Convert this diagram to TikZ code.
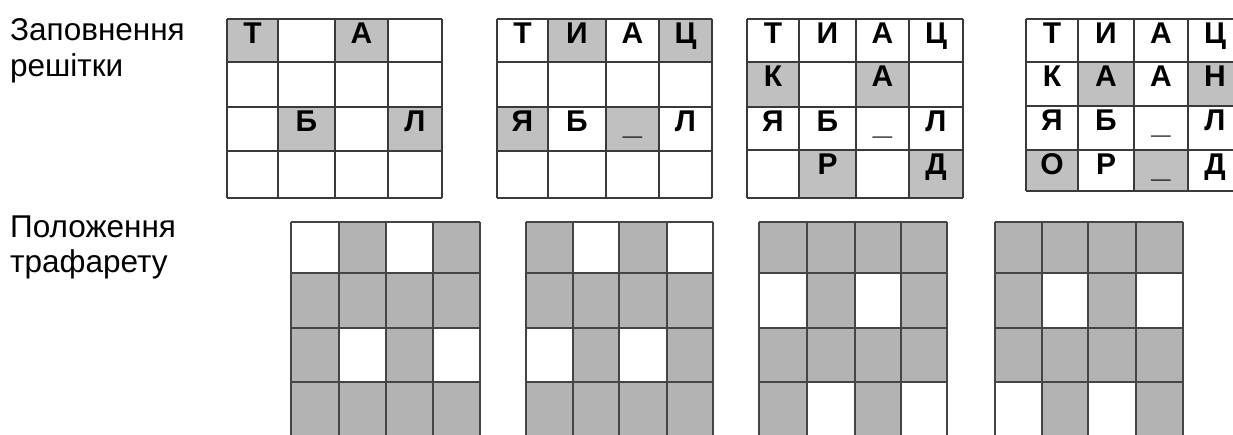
\documentclass[tikz,border=0pt]{standalone}
\usepackage{fontspec}
\setmainfont{Liberation Sans}
\definecolor{cellfill}{HTML}{C0C0C0}
\definecolor{stfill}{HTML}{B3B3B3}
\definecolor{gline}{HTML}{3A3A3A}
\definecolor{sline}{HTML}{454545}
\tikzset{
  gridline/.style={draw=gline,line width=1.4pt},
  stline/.style={draw=sline,line width=2.6pt},
  let/.style={anchor=base,inner sep=0pt,font=\fontsize{30}{32}\selectfont\bfseries},
  uscore/.style={let,yshift=-3pt,xscale=1.15},
  lab/.style={anchor=base west,inner sep=0pt,font=\fontsize{31.5}{36}\selectfont},
}
\begin{document}
\begin{tikzpicture}[x=1pt,y=-1pt]
\useasboundingbox (0,0) rectangle (1233,434);
\clip (0,0) rectangle (1233,434);
\fill[white] (0,0) rectangle (1233,434);

% labels
\node[lab] (l1a) at (10,40.7) {Заповнення};
\node[lab] (l1b) at (10,76) {решітки};
\node[lab] (l2a) at (10,237) {Положення};
\node[lab] (l2b) at (10,272) {трафарету};

% ---------- grid 1
\fill[cellfill] (227,19) rectangle (278,62);
\fill[cellfill] (335,19) rectangle (388,62);
\fill[cellfill] (278,107) rectangle (335,151);
\fill[cellfill] (388,107) rectangle (442,151);
\foreach \x in {227,278,335,388,442} \draw[gridline] (\x,19) -- (\x,198);
\foreach \y in {19,62,107,151,198} \draw[gridline] (227,\y) -- (442,\y);
\node[let] (a11) at (252.5,43.5) {Т};
\node[let] (a13) at (361.5,43.5) {А};
\node[let] (a32) at (306.5,131.5) {Б};
\node[let] (a34) at (415,131.5) {Л};

% ---------- grid 2
\fill[cellfill] (548,19) rectangle (606,62);
\fill[cellfill] (659,19) rectangle (712,62);
\fill[cellfill] (497,107) rectangle (548,151);
\fill[cellfill] (606,107) rectangle (659,151);
\foreach \x in {497,548,606,659,712} \draw[gridline] (\x,19) -- (\x,198);
\foreach \y in {19,62,107,151,198} \draw[gridline] (497,\y) -- (712,\y);
\node[let] (b11) at (522.5,43.5) {Т};
\node[let] (b12) at (577,43.5) {И};
\node[let] (b13) at (632.5,43.5) {А};
\node[let] (b14) at (685.5,43.5) {Ц};
\node[let] (b31) at (522.5,131.5) {Я};
\node[let] (b32) at (577,131.5) {Б};
\node[uscore] (b33) at (632.5,131.5) {\_};
\node[let] (b34) at (685.5,131.5) {Л};

% ---------- grid 3
\fill[cellfill] (747,62) rectangle (799,107);
\fill[cellfill] (856,62) rectangle (909,107);
\fill[cellfill] (799,150) rectangle (856,198);
\fill[cellfill] (909,150) rectangle (963,198);
\foreach \x in {747,799,856,909,963} \draw[gridline] (\x,19) -- (\x,198);
\foreach \y in {19,62,107,150,198} \draw[gridline] (747,\y) -- (963,\y);
\node[let] (c11) at (773,43.5) {Т};
\node[let] (c12) at (827.5,43.5) {И};
\node[let] (c13) at (882.5,43.5) {А};
\node[let] (c14) at (936,43.5) {Ц};
\node[let] (c21) at (773,86.5) {К};
\node[let] (c23) at (882.5,86.5) {А};
\node[let] (c31) at (773,131.5) {Я};
\node[let] (c32) at (827.5,131.5) {Б};
\node[uscore] (c33) at (882.5,131.5) {\_};
\node[let] (c34) at (936,131.5) {Л};
\node[let] (c42) at (827.5,174.5) {Р};
\node[let] (c44) at (936,174.5) {Д};

% ---------- grid 4
\fill[cellfill] (1078,62) rectangle (1134,106);
\fill[cellfill] (1188,62) rectangle (1242,106);
\fill[cellfill] (1026,150) rectangle (1078,191);
\fill[cellfill] (1134,150) rectangle (1188,191);
\foreach \x in {1026,1078,1134,1188,1242} \draw[gridline] (\x,19) -- (\x,191);
\foreach \y in {19,62,106,150,191} \draw[gridline] (1026,\y) -- (1242,\y);
\node[let] (d11) at (1052,43.5) {Т};
\node[let] (d12) at (1106,43.5) {И};
\node[let] (d13) at (1161,43.5) {А};
\node[let] (d14) at (1215,43.5) {Ц};
\node[let] (d21) at (1052,86.5) {К};
\node[let] (d22) at (1106,86.5) {А};
\node[let] (d23) at (1161,86.5) {А};
\node[let] (d24) at (1215,86.5) {Н};
\node[let] (d31) at (1052,130.5) {Я};
\node[let] (d32) at (1106,130.5) {Б};
\node[uscore] (d33) at (1161,130.5) {\_};
\node[let] (d34) at (1215,130.5) {Л};
\node[let] (d41) at (1052,174) {О};
\node[let] (d42) at (1106,174) {Р};
\node[uscore] (d43) at (1161,174) {\_};
\node[let] (d44) at (1215,174) {Д};

% ---------- stencils
% stencil 1
\fill[stfill] (291,222) rectangle (480,440);
\fill[white] (291,222) rectangle (339,273);
\fill[white] (386,222) rectangle (433,273);
\fill[white] (339,328) rectangle (386,382);
\fill[white] (433,328) rectangle (480,382);
\foreach \x in {291,339,386,433,480} \draw[stline] (\x,222) -- (\x,440);
\foreach \y in {222,273,328,382} \draw[stline] (291,\y) -- (480,\y);
% stencil 2
\fill[stfill] (526,222) rectangle (713,440);
\fill[white] (573,222) rectangle (619,273);
\fill[white] (667,222) rectangle (713,273);
\fill[white] (526,328) rectangle (573,382);
\fill[white] (619,328) rectangle (667,382);
\foreach \x in {526,573,619,667,713} \draw[stline] (\x,222) -- (\x,440);
\foreach \y in {222,273,328,382} \draw[stline] (526,\y) -- (713,\y);
% stencil 3
\fill[stfill] (759,222) rectangle (947,440);
\fill[white] (759,273) rectangle (807,328);
\fill[white] (855,273) rectangle (901,328);
\fill[white] (807,382) rectangle (855,440);
\fill[white] (901,382) rectangle (947,440);
\foreach \x in {759,807,855,901,947} \draw[stline] (\x,222) -- (\x,440);
\foreach \y in {222,273,328,382} \draw[stline] (759,\y) -- (947,\y);
% stencil 4
\fill[stfill] (995,222) rectangle (1183,440);
\fill[white] (1042,273) rectangle (1088,328);
\fill[white] (1136,273) rectangle (1183,328);
\fill[white] (995,382) rectangle (1042,440);
\fill[white] (1088,382) rectangle (1136,440);
\foreach \x in {995,1042,1088,1136,1183} \draw[stline] (\x,222) -- (\x,440);
\foreach \y in {222,273,328,382} \draw[stline] (995,\y) -- (1183,\y);
\end{tikzpicture}
\end{document}
